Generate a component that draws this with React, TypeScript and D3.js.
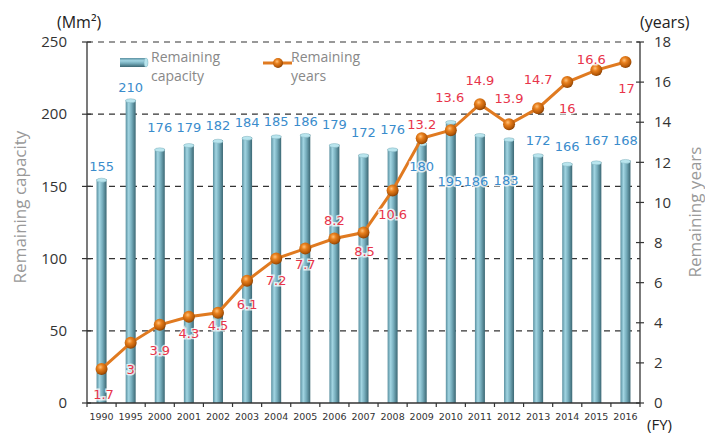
import React from "react";
import * as d3 from "d3";

const years = ["1990","1995","2000","2001","2002","2003","2004","2005","2006","2007","2008","2009","2010","2011","2012","2013","2014","2015","2016"];
const capacity = [155,210,176,179,182,184,185,186,179,172,176,180,195,186,183,172,166,167,168];
const remainingYears = [1.7,3,3.9,4.3,4.5,6.1,7.2,7.7,8.2,8.5,10.6,13.2,13.6,14.9,13.9,14.7,16,16.6,17];
const leftTicks = [0,50,100,150,200,250];
const rightTicks = [0,2,4,6,8,10,12,14,16,18];

// label layout offsets (pixels), kept apart from data
const capLabelDy = [-13,-12,-21,-17,-15,-15,-14,-13,-20,-22,-19,23,60,47,42,-14,-17,-21,-20];
const capLabelDx = [0,0,0,0,0,0,0,0,0,0,0,0,-1,-4,-3,0,0,0,0];
const yrLabelDy = [26,27,26,17,13,24,22,16,-18,19,24,-14,-33,-24,-26,-29,26,-11,26];
const yrLabelDx = [2,0,0,0,0,0,0,0,0,1,0,0,-1,0,0,0,0,-5,1];

const W = 705, H = 437;
const X0 = 87, X1 = 640, YB = 403, YT = 42;

export default function App() {
  const x = d3.scaleBand<string>().domain(years).range([X0, X1]).padding(0);
  const step = x.step();
  const cx = (i: number) => (x(years[i]) as number) + step / 2;
  const yL = d3.scaleLinear().domain([0, 250]).range([YB, YT]);
  const yR = d3.scaleLinear().domain([0, 18]).range([YB, YT]);
  const line = d3.line<number>().x((_, i) => cx(i)).y((d) => yR(d));
  const bw = 10;
  const numFont = "DejaVu Sans, Verdana, sans-serif";
  const txtFont = "'Open Sans', 'Noto Sans', sans-serif";

  return (
    <svg width={W} height={H} style={{ display: "block", position: "absolute", left: 0, top: 0 }}>
      <defs>
        <linearGradient id="barG" x1="0" x2="1" y1="0" y2="0">
          <stop offset="0" stopColor="#5a90a0" />
          <stop offset="0.3" stopColor="#a2d5e2" />
          <stop offset="0.6" stopColor="#76adbc" />
          <stop offset="1" stopColor="#3b6773" />
        </linearGradient>
        <linearGradient id="barGH" x1="0" x2="0" y1="0" y2="1">
          <stop offset="0" stopColor="#5a90a0" />
          <stop offset="0.3" stopColor="#a2d5e2" />
          <stop offset="0.6" stopColor="#76adbc" />
          <stop offset="1" stopColor="#3b6773" />
        </linearGradient>
        <radialGradient id="ballG" cx="0.4" cy="0.35" r="0.65">
          <stop offset="0" stopColor="#ffc27a" />
          <stop offset="0.35" stopColor="#e8801e" />
          <stop offset="0.8" stopColor="#b85a08" />
          <stop offset="1" stopColor="#8a4204" />
        </radialGradient>
      </defs>

      {/* grid */}
      {leftTicks.filter((t) => t > 0).map((t) => (
        <line key={"g" + t} x1={X0} x2={X1} y1={yL(t)} y2={yL(t)} stroke="#333" strokeWidth={1.2} strokeDasharray="6,5" />
      ))}

      {/* bars */}
      {capacity.map((v, i) => (
        <g key={"b" + i}>
          <rect x={cx(i) - bw / 2} y={yL(v)} width={bw} height={YB - yL(v)} fill="url(#barG)" />
          <ellipse cx={cx(i)} cy={yL(v) + 1} rx={bw / 2} ry={2} fill="#b9e5ee" stroke="#7fb0bd" strokeWidth={0.5} />
        </g>
      ))}

      {/* axes */}
      <line x1={X0} x2={X0} y1={YT} y2={YB} stroke="#333" strokeWidth={1.3} />
      <line x1={X1} x2={X1} y1={YT} y2={YB} stroke="#333" strokeWidth={1.3} />
      <line x1={X0} x2={X1} y1={YB} y2={YB} stroke="#333" strokeWidth={1.3} />
      {leftTicks.map((t) => (
        <g key={"lt" + t}>
          <line x1={X0 - 5} x2={X0 + 4} y1={yL(t)} y2={yL(t)} stroke="#333" strokeWidth={1.2} />
          <text x={67} y={yL(t)} dy="0.35em" textAnchor="end" fontFamily={txtFont} fontSize={15} fill="#333">{t}</text>
        </g>
      ))}
      {rightTicks.map((t) => (
        <g key={"rt" + t}>
          <line x1={X1 - 4} x2={X1 + 4} y1={yR(t)} y2={yR(t)} stroke="#333" strokeWidth={1.2} />
          <text x={654} y={yR(t)} dy="0.35em" textAnchor="start" fontFamily={txtFont} fontSize={15} fill="#333">{t}</text>
        </g>
      ))}
      {d3.range(years.length + 1).map((i) => (
        <line key={"xt" + i} x1={X0 + i * step} x2={X0 + i * step} y1={YB} y2={YB + 4} stroke="#333" strokeWidth={1.2} />
      ))}
      {years.map((yr, i) => (
        <text key={"xl" + yr} x={cx(i)} y={420} textAnchor="middle" fontFamily={numFont} fontSize={9.5} fill="#333">{yr}</text>
      ))}

      {/* line */}
      <path d={line(remainingYears) || ""} fill="none" stroke="#e07a20" strokeWidth={3} />
      {remainingYears.map((v, i) => (
        <circle key={"p" + i} cx={cx(i)} cy={yR(v)} r={6} fill="url(#ballG)" />
      ))}

      {/* capacity labels */}
      {capacity.map((v, i) => (
        <text key={"cl" + i} x={cx(i) + capLabelDx[i]} y={yL(v) + capLabelDy[i]} dy="0.35em" textAnchor="middle"
          fontFamily={numFont} fontSize={13} fill="#3a8ccc" stroke="rgba(255,255,255,0.75)" strokeWidth={3} paintOrder="stroke">{v}</text>
      ))}
      {/* years labels */}
      {remainingYears.map((v, i) => (
        <text key={"yl" + i} x={cx(i) + yrLabelDx[i]} y={yR(v) + yrLabelDy[i]} dy="0.35em" textAnchor="middle"
          fontFamily={numFont} fontSize={13} fill="#e8344a" stroke="rgba(255,255,255,0.75)" strokeWidth={3} paintOrder="stroke">{v}</text>
      ))}

      {/* legend */}
      <rect x={120} y={58} width={26} height={9} fill="url(#barGH)" />
      <ellipse cx={146} cy={62.5} rx={2} ry={4.5} fill="#b9e5ee" stroke="#7fb0bd" strokeWidth={0.5} />
      <text x={151} y={57} dy="0.35em" fontFamily={txtFont} fontSize={14} fill="#888">Remaining</text>
      <text x={151} y={76} dy="0.35em" fontFamily={txtFont} fontSize={14} fill="#888">capacity</text>
      <line x1={263} x2={292} y1={63} y2={63} stroke="#e07a20" strokeWidth={3} />
      <circle cx={278} cy={63} r={5} fill="url(#ballG)" />
      <text x={291} y={57} dy="0.35em" fontFamily={txtFont} fontSize={14} fill="#888">Remaining</text>
      <text x={291} y={76} dy="0.35em" fontFamily={txtFont} fontSize={14} fill="#888">years</text>

      {/* units and titles */}
      <text x={57} y={22} dy="0.35em" fontFamily={txtFont} fontSize={16} fill="#222">(Mm²)</text>
      <text x={640} y={22} dy="0.35em" fontFamily={txtFont} fontSize={16} fill="#222">(years)</text>
      <text x={647} y={425} dy="0.35em" fontFamily={txtFont} fontSize={15} fill="#222">(FY)</text>
      <text transform={`translate(20,207) rotate(-90)`} dy="0.35em" textAnchor="middle" fontFamily={txtFont} fontSize={17} fill="#999">Remaining capacity</text>
      <text transform={`translate(695,212) rotate(-90)`} dy="0.35em" textAnchor="middle" fontFamily={txtFont} fontSize={17} fill="#999">Remaining years</text>
    </svg>
  );
}
